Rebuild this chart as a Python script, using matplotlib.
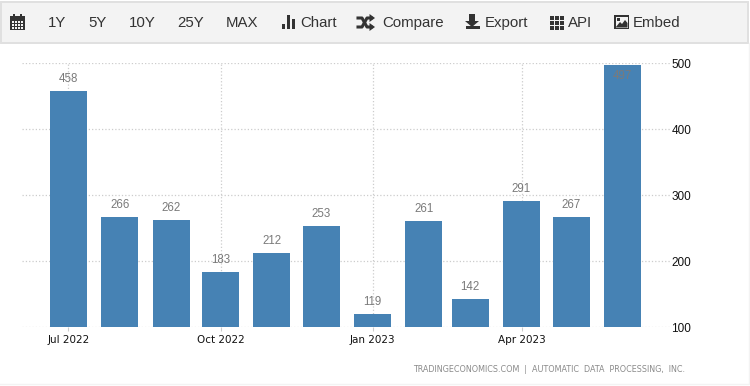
import numpy as np
import pandas as pd
import matplotlib
matplotlib.use("Agg")
import matplotlib.pyplot as plt
from matplotlib.patches import Rectangle, Polygon

# Donnees
months = ["2022-07-01", "2022-08-01", "2022-09-01", "2022-10-01", "2022-11-01", "2022-12-01",
          "2023-01-01", "2023-02-01", "2023-03-01", "2023-04-01", "2023-05-01", "2023-06-01"]
values = [458, 266, 262, 183, 212, 253, 119, 261, 142, 291, 267, 497]
tick_months = ["2022-07-01", "2022-10-01", "2023-01-01", "2023-04-01"]
tick_labels = ["Jul 2022", "Oct 2022", "Jan 2023", "Apr 2023"]
y_ticks = [100, 200, 300, 400, 500]
toolbar_labels = ["1Y", "5Y", "10Y", "25Y", "MAX", "Chart", "Compare", "Export", "API", "Embed"]
toolbar_x = [48, 88, 129, 177, 226, 300, 382, 485, 568, 633]
source = "TRADINGECONOMICS.COM  |  AUTOMATIC  DATA  PROCESSING,  INC."

W, H = 750, 386
BLUE = "#4682b4"
DARK = "#333333"
UI_FONT = "Liberation Sans"
TICK_FONT = "DejaVu Sans"

fig = plt.figure(figsize=(W / 100, H / 100), dpi=100)

# Fond en coordonnees pixels pour la barre d'outils
bg = fig.add_axes([0, 0, 1, 1])
bg.set_xlim(0, W)
bg.set_ylim(H, 0)
bg.axis("off")
bg.add_patch(Rectangle((0.5, 1.5), 747.5, 41.5, fc="#f3f3f3", ec="#e0e0e0", lw=1.4))
bg.plot([748.5, 748.5, 0], [43, 384, 384], color="#f3f3f3", lw=1)

for label, x in zip(toolbar_labels, toolbar_x):
    bg.text(x, 23, label, fontsize=10.8, family=UI_FONT, color=DARK, va="center", ha="left")


def box(x, y, w, h, color=DARK):
    bg.add_patch(Rectangle((x, y), w, h, fc=color, ec="none"))


# calendrier
box(10, 16, 15, 14)
for i in range(4):
    for j in range(3):
        box(11.5 + i * 3.2, 20.5 + j * 3, 2.2, 2, "#f3f3f3")
box(13, 14, 2, 3)
box(20, 14, 2, 3)
# barres "Chart"
box(282, 24, 3, 5)
box(286.5, 15, 3.5, 14)
box(291.5, 19, 3.5, 10)
# fleches "Compare"
bg.plot([358, 362, 367, 371], [27, 27, 18, 18], color=DARK, lw=2.2)
bg.plot([358, 362, 367, 371], [18, 18, 27, 27], color=DARK, lw=2.2)
bg.add_patch(Polygon([[369.5, 14], [375, 18], [369.5, 22]], fc=DARK, ec="none"))
bg.add_patch(Polygon([[369.5, 23], [375, 27], [369.5, 31]], fc=DARK, ec="none"))
# "Export"
box(469, 14, 6, 8)
bg.add_patch(Polygon([[465, 21], [479, 21], [472, 27]], fc=DARK, ec="none"))
box(466, 26, 14, 3)
# "API"
for i in range(3):
    for j in range(3):
        box(549.5 + i * 5, 15.5 + j * 5, 4, 4)
# "Embed"
box(614, 15, 15, 14)
box(615.5, 16.5, 12, 11, "#f3f3f3")
box(616.5, 17.5, 3.5, 3)
bg.add_patch(Polygon([[615.5, 27.5], [620, 22], [622, 24], [625, 20], [627.5, 23], [627.5, 27.5]], fc=DARK, ec="none"))

# Zone du graphique
left, right, top, bottom = 22, 670, 63, 327
ax = fig.add_axes([left / W, 1 - bottom / H, (right - left) / W, (bottom - top) / H])
ax.patch.set_alpha(0)

dates = pd.to_datetime(months)
px_per_day = 453 / 274
bar_width = pd.Timedelta(days=37 / px_per_day)
ax.bar(dates, np.array(values) - 100, bottom=100, width=bar_width, color=BLUE, zorder=3)

for d, v in zip(dates, values):
    # au dessus de 480 l'etiquette passe dans la barre
    offset = -11 if v > 480 else 12
    ax.annotate(str(v), (d, v), xytext=(0, offset), textcoords="offset pixels", ha="center", va="center",
                fontsize=8.3, family=UI_FONT, color="#7a7a7a", zorder=4)

ax.set_xlim(pd.Timestamp("2022-07-01") - pd.Timedelta(days=46.5 / px_per_day),
            pd.Timestamp("2022-07-01") + pd.Timedelta(days=601.5 / px_per_day))
ax.set_ylim(100, 500)
ax.set_xticks(pd.to_datetime(tick_months))
ax.set_xticklabels(tick_labels, fontsize=7.5, family=TICK_FONT, color="#111111")
ax.yaxis.tick_right()
ax.set_yticks(y_ticks)
ax.set_yticklabels([str(v) for v in y_ticks], fontsize=8.5, family=UI_FONT, color="#111111")
ax.tick_params(axis="y", length=0, pad=1)
ax.tick_params(axis="x", length=3, width=0.8, color="#cccccc", pad=3)
ax.grid(True, color="#cccccc", linestyle=":", linewidth=0.9, zorder=0)
ax.set_axisbelow(True)
for s in ax.spines.values():
    s.set_visible(False)

bg.text(685, 369, source, fontsize=5.75, family=TICK_FONT, color="#8a8a8a", ha="right", va="center")

fig.savefig("out.png", dpi=100)
